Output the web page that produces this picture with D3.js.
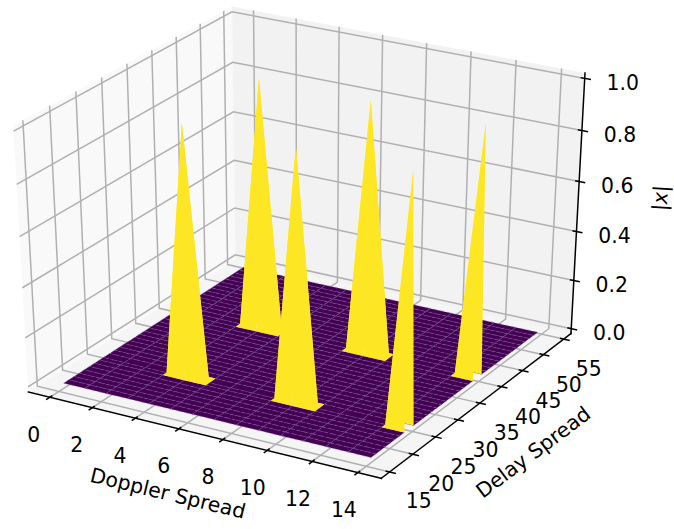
<!DOCTYPE html>
<html>
<head>
<meta charset="utf-8">
<script src="https://cdn.jsdelivr.net/npm/d3@7"></script>
<style>
  html, body { margin: 0; padding: 0; background: #fff; }
  text { font-family: "DejaVu Sans"; fill: #000; }
</style>
</head>
<body>
<svg id="chart" width="674" height="529"></svg>
<script>
// surface sample positions
const dopplerBins = [0, 1, 2, 3, 4, 5, 6, 7, 8, 9, 10, 11, 12, 13, 14];
const delayBins = [16, 17.03, 18.05, 19.08, 20.11, 21.14, 22.16, 23.19, 23.95, 25.24, 26.27, 27.3, 28.32,
  29.35, 30.38, 31.41, 32.43, 33.46, 34.49, 35.51, 36.54, 37.57, 38.59, 39.55, 40.65, 41.68, 42.7, 43.73,
  44.76, 45.78, 46.81, 47.84, 48.86, 49.89, 50.92, 51.95, 52.97, 54];

// the spikes, everything else on the surface is 0
const peakDoppler = [4, 4, 9, 9, 14, 14];
const peakDelay = [23.95, 39.55, 23.95, 39.55, 23.95, 39.55];
const peakValue = [1, 1, 1, 1, 1, 1];

const dopplerTicks = [0, 2, 4, 6, 8, 10, 12, 14];
const delayTicks = [15, 20, 25, 30, 35, 40, 45, 50, 55];
const valueTicks = [0, 0.2, 0.4, 0.6, 0.8, 1];

const svg = d3.select("#chart");

// data -> unit cube
const xWorld = d3.scaleLinear().domain([-0.7, 14.7]).range([0, 1]);
const yWorld = d3.scaleLinear().domain([14.1, 55.9]).range([0, 1]);
const zWorld = d3.scaleLinear().domain([0, 1]).range([0, 1]);

// projected plane -> pixels
const screenX = d3.scaleLinear().domain([0, 1]).range([304, 304 + 3912]);
const screenY = d3.scaleLinear().domain([0, 1]).range([234, 234 - 2920]);

// elev 30, azim -60, eye 10 away from the cube centre
const elev = 30 * Math.PI / 180, azim = -60 * Math.PI / 180, dist = 10;
const n = [Math.cos(azim) * Math.cos(elev), Math.sin(azim) * Math.cos(elev), Math.sin(elev)];
const u = [-Math.sin(azim), Math.cos(azim), 0];
const v = [n[1] * u[2] - n[2] * u[1], n[2] * u[0] - n[0] * u[2], n[0] * u[1] - n[1] * u[0]];
const dot = (a, b) => a[0] * b[0] + a[1] * b[1] + a[2] * b[2];

function projectWorld(p) {
  const c = [p[0] - 0.5, p[1] - 0.5, p[2] - 0.5];
  const d = dist - dot(c, n);
  return { x: screenX(dot(c, u) / d), y: screenY(dot(c, v) / d), d: d };
}
const project = (x, y, z) => projectWorld([xWorld(x), yWorld(y), zWorld(z)]);

// panes stick out of the view box by 1/48 on every side
const lo = -1 / 48, hi = 1 + 1 / 48;
const pts = list => list.map(p => { const s = projectWorld(p); return s.x + "," + s.y; }).join(" ");

const panes = [
  { fill: "#f9f9f9", corners: [[lo, lo, lo], [lo, hi, lo], [lo, hi, hi], [lo, lo, hi]] },
  { fill: "#f2f2f2", corners: [[lo, hi, lo], [hi, hi, lo], [hi, hi, hi], [lo, hi, hi]] },
  { fill: "#f5f5f5", corners: [[lo, lo, lo], [hi, lo, lo], [hi, hi, lo], [lo, hi, lo]] }
];
svg.append("g").selectAll("polygon").data(panes).join("polygon")
  .attr("points", d => pts(d.corners))
  .attr("fill", d => d.fill);

// grid
const gridLines = [
  ...dopplerTicks.map(t => [[xWorld(t), lo, lo], [xWorld(t), hi, lo], [xWorld(t), hi, hi]]),
  ...delayTicks.map(t => [[hi, yWorld(t), lo], [lo, yWorld(t), lo], [lo, yWorld(t), hi]]),
  ...valueTicks.map(t => [[lo, lo, zWorld(t)], [lo, hi, zWorld(t)], [hi, hi, zWorld(t)]])
];
svg.append("g").selectAll("polyline").data(gridLines).join("polyline")
  .attr("points", pts)
  .attr("fill", "none")
  .attr("stroke", "#b0b0b0")
  .attr("stroke-width", 1.5);

// axis lines
const axisLines = [
  [[lo, lo, lo], [hi, lo, lo]],
  [[hi, lo, lo], [hi, hi, lo]],
  [[hi, hi, lo], [hi, hi, hi]]
];
svg.append("g").selectAll("polyline").data(axisLines).join("polyline")
  .attr("points", pts)
  .attr("fill", "none")
  .attr("stroke", "#000")
  .attr("stroke-width", 1.5)
  .attr("stroke-linecap", "square");

// tick marks
const tickIn = 0.0117, tickOut = 0.0176;
const tickMarks = [
  ...dopplerTicks.map(t => [[xWorld(t), lo + tickIn, lo], [xWorld(t), lo - tickOut, lo]]),
  ...delayTicks.map(t => [[hi - tickIn, yWorld(t), lo], [hi + tickOut, yWorld(t), lo]]),
  ...valueTicks.map(t => [[hi - tickIn, hi, zWorld(t)], [hi + tickOut, hi, zWorld(t)]])
];
svg.append("g").selectAll("polyline").data(tickMarks).join("polyline")
  .attr("points", pts)
  .attr("fill", "none")
  .attr("stroke", "#000")
  .attr("stroke-width", 1.5);

// tick labels, offsets drift a bit along the axis because of the perspective
const xLabelDx = d3.scaleLinear().domain([0, 14]).range([-16, -14]);
const yLabelDx = d3.scaleLinear().domain([15, 55]).range([29, 25]);
const yLabelDy = d3.scaleLinear().domain([15, 55]).range([29, 30]);
const tickLabels = [
  ...dopplerTicks.map(t => {
    const s = projectWorld([xWorld(t), lo, lo]);
    return { x: s.x + xLabelDx(t), y: s.y + 37, text: String(t) };
  }),
  ...delayTicks.map(t => {
    const s = projectWorld([hi, yWorld(t), lo]);
    return { x: s.x + yLabelDx(t), y: s.y + yLabelDy(t), text: String(t) };
  }),
  ...valueTicks.map(t => {
    const s = projectWorld([hi, hi, zWorld(t)]);
    return { x: s.x + 38, y: s.y + 4, text: t.toFixed(1) };
  })
];
svg.append("g").selectAll("text").data(tickLabels).join("text")
  .attr("x", d => d.x)
  .attr("y", d => d.y)
  .attr("dy", "0.36em")
  .attr("text-anchor", "middle")
  .attr("font-size", 20.4)
  .text(d => d.text);

// axis labels
function axisLabel(text, x, y, angle) {
  return svg.append("text")
    .attr("transform", `translate(${x},${y}) rotate(${angle})`)
    .attr("dy", "0.36em")
    .attr("text-anchor", "middle")
    .attr("font-size", 20.4)
    .text(text);
}
axisLabel("Doppler Spread", 168, 493, 13.6);
axisLabel("Delay Spread", 533, 452, -36.9);
const zLabel = axisLabel("|", 660, 198, -86.7);
zLabel.append("tspan").attr("font-style", "italic").text("x");
zLabel.append("tspan").text("|");

// surface
const peakAt = new Map(peakDoppler.map((x, i) => [x + "/" + peakDelay[i], peakValue[i]]));
const height = (x, y) => peakAt.get(x + "/" + y) || 0;

const cells = [];
dopplerBins.slice(1).forEach((x1, i) => {
  const x0 = dopplerBins[i];
  delayBins.slice(1).forEach((y1, j) => {
    const y0 = delayBins[j];
    const corners = [[x0, y0], [x1, y0], [x1, y1], [x0, y1]].map(c => project(c[0], c[1], height(c[0], c[1])));
    const mean = d3.mean([[x0, y0], [x1, y0], [x1, y1], [x0, y1]], c => height(c[0], c[1]));
    cells.push({ corners, mean, depth: d3.mean(corners, c => c.d) });
  });
});
cells.sort((a, b) => b.depth - a.depth);

const color = d3.scaleSequential(d3.interpolateViridis).domain(d3.extent(cells, c => c.mean));
svg.append("g").selectAll("polygon").data(cells).join("polygon")
  .attr("points", d => d.corners.map(c => c.x + "," + c.y).join(" "))
  .attr("fill", d => color(d.mean))
  // flat cells show thin broken seams, the spikes don't
  .attr("stroke", d => d.mean > 0 ? "none" : "#7d5fa0")
  .attr("stroke-width", 0.5)
  .attr("stroke-dasharray", "3.5 3.5");
</script>
</body>
</html>
